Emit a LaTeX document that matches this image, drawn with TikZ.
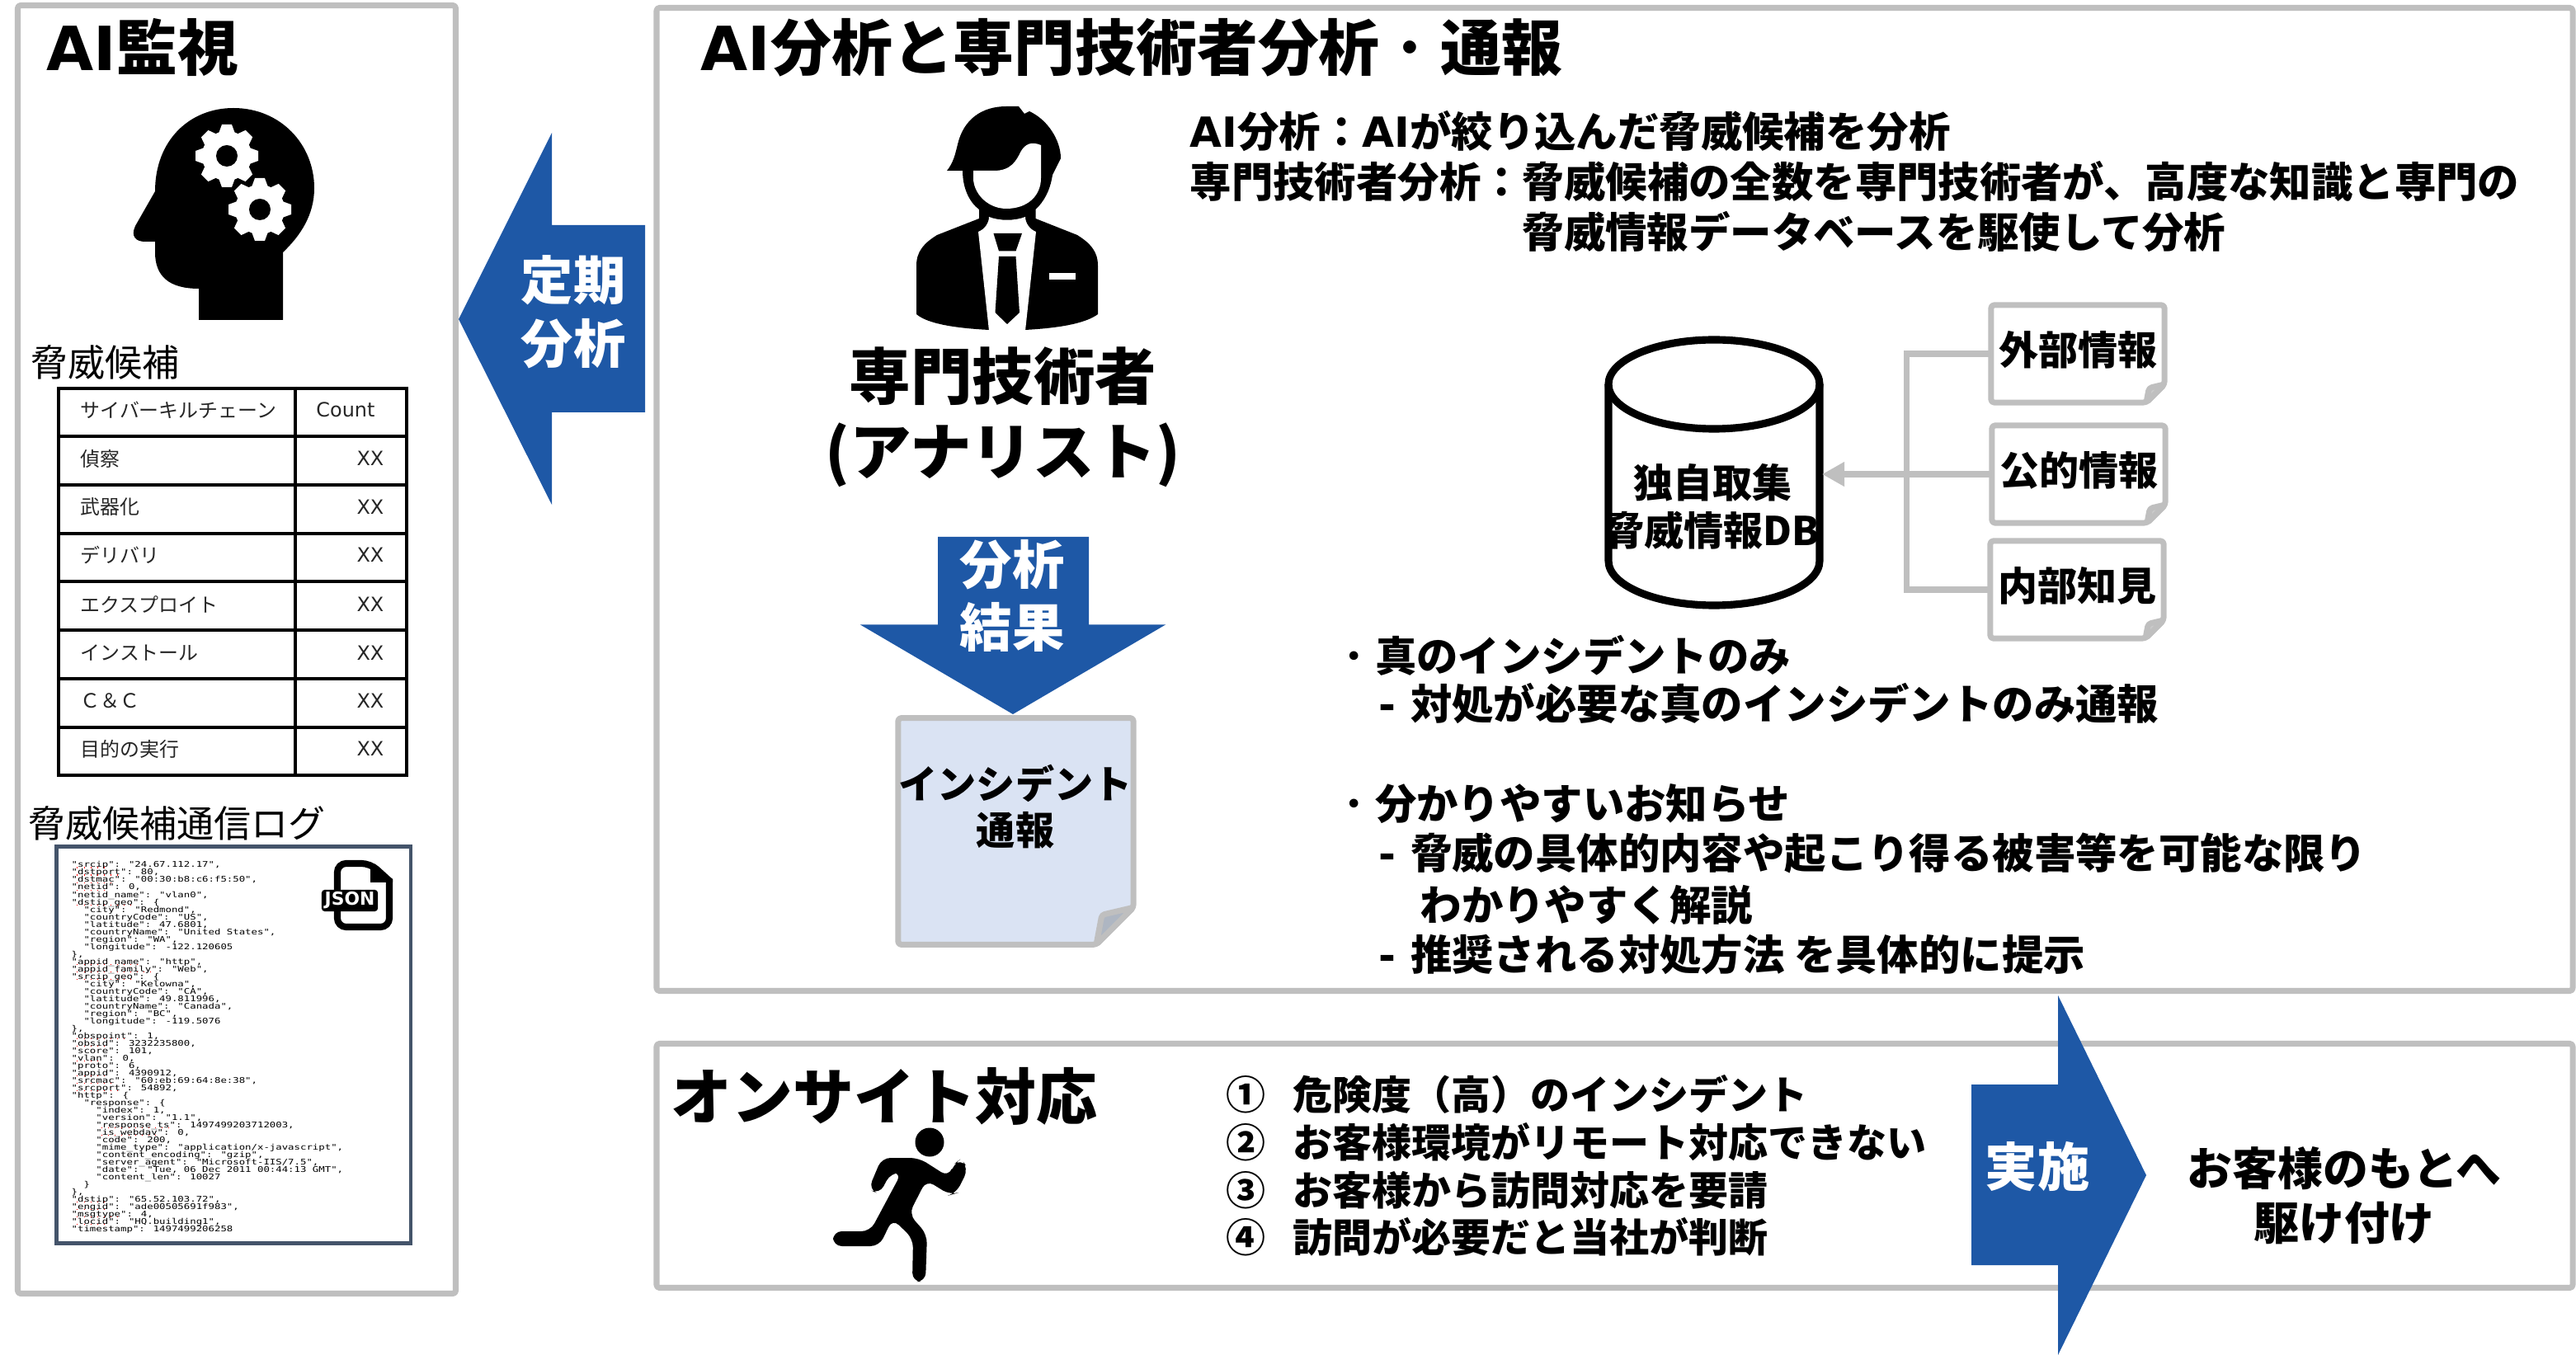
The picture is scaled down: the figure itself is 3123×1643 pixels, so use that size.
\documentclass[tikz,border=0pt]{standalone}
\usepackage{fontspec}
\setmainfont{Noto Sans CJK JP}
\newfontfamily\latfont{DejaVu Sans}
\newfontfamily\jsonfont[FakeStretch=1.3]{DejaVu Sans Mono}
\usetikzlibrary{arrows.meta,positioning,calc,backgrounds}
\definecolor{frameG}{HTML}{BFBFBF}
\definecolor{arrowB}{HTML}{1E58A6}
\definecolor{noteB}{HTML}{DAE3F3}
\definecolor{logD}{HTML}{44546A}
\definecolor{cellT}{HTML}{262626}
\newcommand{\lat}[1]{{\latfont #1}}
\newcommand{\jsi}{\phantom{xx}}
\newcommand{\middot}{{\mdseries ・}}
\newcommand{\logfont}{\jsonfont\fontsize{2.7}{2.565}\selectfont\setlength{\lineskiplimit}{-5pt}\setlength{\lineskip}{0pt}}
\newcommand{\notepaper}[3]{%
\begin{scope}[on background layer]
\draw[frame, fill=#2] (#1.north west) -- (#1.north east) -- ($(#1.south east)+(0,-#3)$) -- ($(#1.south east)+(-#3,0)$) -- (#1.south west) -- cycle;
\draw[frame, fill=#2!80!black] ($(#1.south east)+(0,-#3)$) -- ($(#1.south east)+(-.85*#3,-.8*#3)$) -- ($(#1.south east)+(-#3,0)$) -- cycle;
\end{scope}}
\newcommand{\gearicon}[2]{%
\begin{scope}[shift={(#1,#2)}]
\fill[white] (0,0) circle (30);
\foreach \a in {0,45,...,315} \fill[white, rotate=\a] (-10,-27) -- (-6,-38) -- (6,-38) -- (10,-27) -- cycle;
\fill[black] (0,0) circle (13);
\end{scope}}
\tikzset{
  frame/.style={draw=frameG, line width=2pt, rounded corners=1pt, line join=round},
  bigarrow/.style={fill=arrowB},
  arrowtxt/.style={white, inner sep=0pt, align=center, font=\bfseries\fontsize{18}{21.8}\selectfont},
  heading/.style={inner sep=0pt, anchor=west, font=\bfseries\fontsize{21}{26}\selectfont},
  subhead/.style={inner sep=0pt, anchor=west, font=\fontsize{12.8}{15}\selectfont},
  bodyline/.style={inner sep=0pt, anchor=west, font=\bfseries\fontsize{14.33}{17}\selectfont},
  listline/.style={inner sep=0pt, anchor=west, font=\bfseries\fontsize{13.65}{16}\selectfont},
  docnote/.style={inner sep=0pt, outer sep=0pt, minimum width=2.1cm, minimum height=1.18cm, text height=11.6pt, text depth=4pt, font=\bfseries\fontsize{13.65}{16}\selectfont},
  cell/.style={inner sep=0pt, cellT, font=\fontsize{6.8}{8}\selectfont},
  link/.style={draw=frameG, line width=2pt},
  spell/.style={red, dotted, line width=0.3pt},
}
\begin{document}
\begin{tikzpicture}[x=0.01cm, y=-0.01cm]
\useasboundingbox (0,0) rectangle (3123,1643);
% frames
\draw[frame] (21.5,6.5) rectangle (552.5,1568.5);
\draw[frame] (796,9.5) rectangle (3119,1201.5);
\draw[frame] (796,1265.5) rectangle (3119,1561.5);
% AI monitoring
\node[heading] (aiTitle) at (56,57) {\lat{AI}監視};
\fill (343,388) -- (241,388) -- (241,350) .. controls (205,350) and (188,335) .. (188,306) -- (188,293) -- (176,293) .. controls (165,293) and (158,287) .. (164,274) -- (188,232) .. controls (188,170) and (230,131) .. (283,131) .. controls (340,131) and (381,175) .. (381,228) .. controls (381,260) and (365,285) .. (343,306) -- cycle;
\gearicon{275}{189}
\gearicon{315}{254}
\node[subhead] (candTitle) at (37,439) {脅威候補};
\foreach \y in {471,529,588,647,705,764,823,882,940} \draw[line width=1pt] (71,\y) -- (493,\y);
\foreach \x in {71,358,493} \draw[line width=1pt] (\x,469) -- (\x,942);
\node[cell, anchor=west] (headKill) at (97,497) {サイバーキルチェーン};
\node[cell] (headCount) at (419,497) {\lat{Count}};
\foreach \y/\t [count=\i] in {556/偵察,615/武器化,673/デリバリ,733/エクスプロイト,792/インストール,850/Ｃ＆Ｃ,908/目的の実行} {
  \node[cell, anchor=west] (stage\i) at (97,\y) {\t};
  \node[cell, anchor=east] (count\i) at (466,\y) {\lat{XX}};
}
\node[subhead] (logTitle) at (34,998) {脅威候補通信ログ};
\draw[draw=logD, line width=1.4pt] (68.5,1026.5) rectangle (498,1507.5);
\node[inner sep=0pt, anchor=north west, align=left, font=\logfont] (logText) at (86,1044) {%
"srcip": "24.67.112.17",\\
"dstport": 80,\\
"dstmac": "00:30:b8:c6:f5:50",\\
"netid": 0,\\
"netid\_name": "vlan0",\\
"dstip\_geo": \{\\
\jsi"city": "Redmond",\\
\jsi"countryCode": "US",\\
\jsi"latitude": 47.6801,\\
\jsi"countryName": "United States",\\
\jsi"region": "WA",\\
\jsi"longitude": -122.120605\\
\},\\
"appid\_name": "http",\\
"appid\_family": "Web",\\
"srcip\_geo": \{\\
\jsi"city": "Kelowna",\\
\jsi"countryCode": "CA",\\
\jsi"latitude": 49.811996,\\
\jsi"countryName": "Canada",\\
\jsi"region": "BC",\\
\jsi"longitude": -119.5076\\
\},\\
"obspoint": 1,\\
"obsid": 3232235800,\\
"score": 101,\\
"vlan": 0,\\
"proto": 6,\\
"appid": 4390912,\\
"srcmac": "60:eb:69:64:8e:38",\\
"srcport": 54892,\\
"http": \{\\
\jsi"response": \{\\
\jsi\jsi"index": 1,\\
\jsi\jsi"version": "1.1",\\
\jsi\jsi"response\_ts": 1497499203712003,\\
\jsi\jsi"is\_webdav": 0,\\
\jsi\jsi"code": 200,\\
\jsi\jsi"mime\_type": "application/x-javascript",\\
\jsi\jsi"content\_encoding": "gzip",\\
\jsi\jsi"server\_agent": "Microsoft-IIS/7.5",\\
\jsi\jsi"date": "Tue, 06 Dec 2011 00:44:13 GMT",\\
\jsi\jsi"content\_len": 10027\\
\jsi\}\\
\},\\
"dstip": "65.52.103.72",\\
"engid": "ade00505691f983",\\
"msgtype": 4,\\
"locid": "HQ.building1",\\
"timestamp": 1497499206258};
\foreach \r/\c/\n in {0/1/5,1/1/7,2/1/6,3/1/5,5/1/9,13/1/10,14/1/12,15/1/9,23/1/8,24/1/5,26/1/4,28/1/5,29/1/6,30/1/7,35/5/11,36/5/9,45/1/5,46/1/5,47/1/7,48/1/5}
  \draw[spell] ({86+\c*7.43},{1052+\r*9.02}) -- ++({\n*7.43},0);
% json file icon
\draw[line width=2.3pt, rounded corners=3pt] (409,1079) -- (409,1047) -- (449,1047) [sharp corners] -- (472,1068) [rounded corners=3pt] -- (472,1124) -- (409,1124) -- (409,1105);
\fill (449,1045) -- (476,1066) -- (476,1070) -- (449,1070) -- cycle;
\node[fill=black, text=white, rounded corners=1pt, inner sep=0pt, minimum width=.68cm, minimum height=.26cm, font=\latfont\bfseries\fontsize{6.2}{7}\selectfont] (jsonTag) at (424,1092) {JSON};
% periodic analysis arrow
\fill[bigarrow] (556,387) -- (669,161) -- (669,273) -- (782,273) -- (782,500) -- (669,500) -- (669,612) -- cycle;
\node[arrowtxt] (periodic) at (695,378) {定期\\分析};
% analyst
\node[heading] (mainTitle) at (849,58) {\lat{AI}分析と専門技術者分析\middot 通報};
\fill (1148,207) .. controls (1156,197) and (1158,187) .. (1161,175) .. controls (1168,145) and (1190,129) .. (1220,129) -- (1235,129) -- (1242,138) -- (1248,135) .. controls (1270,145) and (1286,170) .. (1286,192) -- (1276,212) .. controls (1273,232) and (1265,245) .. (1255.5,254) -- (1255.5,265) -- (1306,285) .. controls (1322,295) and (1331,305) .. (1331,322) -- (1331,381) .. controls (1315,393) and (1280,398) .. (1243,400) -- (1199,400) .. controls (1160,398) and (1125,393) .. (1111,381) -- (1111,322) .. controls (1111,305) and (1120,295) .. (1136,285) -- (1187,265) -- (1187,254) .. controls (1175,245) and (1167,228) .. (1167,207) -- cycle;
\fill[white] (1180,207) -- (1180,218) .. controls (1182,238) and (1200,253) .. (1220,253) .. controls (1245,253) and (1262,238) .. (1262,216) -- (1262,176) .. controls (1250,171) and (1243,175) .. (1238,183) .. controls (1232,195) and (1226,207) .. (1205,207) -- cycle;
\fill[white] (1199,263) .. controls (1212,268) and (1230,268) .. (1243,263) .. controls (1243,270) and (1248,278) .. (1256,281) -- (1243,401) -- (1199,401) -- (1186,281) .. controls (1194,278) and (1199,270) .. (1199,263) -- cycle;
\fill (1204.5,283) -- (1239,283) -- (1231.5,304.5) -- (1211,304.5) -- cycle;
\fill (1211,311) -- (1231.5,311) -- (1236,379) -- (1221,393) -- (1206.5,379) -- cycle;
\fill[white] (1272,331) rectangle (1303.5,339);
\node[inner sep=0pt, align=center, font=\bfseries\fontsize{21.2}{26}\selectfont] (analyst) at (1216,506) {専門技術者\\(アナリスト)};
% analysis result arrow
\fill[bigarrow] (1137,651) -- (1320,651) -- (1320,757.5) -- (1413,757.5) -- (1228,866) -- (1043,757.5) -- (1137,757.5) -- cycle;
\node[arrowtxt] (result) at (1227,722.5) {分析\\結果};
\node[inner sep=0pt, outer sep=0pt, minimum width=2.85cm, minimum height=2.745cm] (incident) at (1231.5,1008) {};
\notepaper{incident}{noteB}{45}
\node[inner sep=0pt, align=center, font=\bfseries\fontsize{13.4}{15.9}\selectfont] (incidentTxt) at (1231,978) {インシデント\\通報};
% description
\node[bodyline] (desc1) at (1442,159) {\lat{AI}分析：\lat{AI}が絞り込んだ脅威候補を分析};
\node[bodyline] (desc2) at (1442,220) {専門技術者分析：脅威候補の全数を専門技術者が、高度な知識と専門の};
\node[bodyline] (desc3) at (1845,281) {脅威情報データベースを駆使して分析};
% database
\draw[line width=2.6pt, fill=white] (1950,466) -- (1950,680) arc[start angle=180, end angle=360, x radius=128, y radius=-54] -- (2206,466);
\draw[line width=2.6pt] (2078,466) ellipse[x radius=128, y radius=54];
\node[inner sep=0pt, align=center, font=\bfseries\fontsize{13.65}{16.5}\selectfont] (db) at (2076,614) {独自取集\\脅威情報DB};
\coordinate (dbIn) at (2209,575);
\coordinate (bus) at (2311,575);
\node[docnote] (external) at (2519,429) {外部情報};
\node[docnote] (public) at (2520,575) {公的情報};
\node[docnote] (internal) at (2518,715) {内部知見};
\notepaper{external}{white}{22}
\notepaper{public}{white}{22}
\notepaper{internal}{white}{22}
\draw[link] (external.west) -- (external.west -| bus) -- (internal.west -| bus) -- (internal.west);
\draw[link, -{Triangle[length=7.7pt, width=8pt]}] (public.west) -- (dbIn);
% notice points
\node[bodyline] (point1) at (1616,795) {\middot 真のインシデントのみ};
\node[bodyline] (point1a) at (1671,853) {\lat{- }対処が必要な真のインシデントのみ通報};
\node[bodyline] (point2) at (1616,975) {\middot 分かりやすいお知らせ};
\node[bodyline] (point2a) at (1671,1035) {\lat{- }脅威の具体的内容や起こり得る被害等を可能な限り};
\node[bodyline] (point2b) at (1721,1097) {わかりやすく解説};
\node[bodyline] (point2c) at (1671,1157) {\lat{- }推奨される対処方法 を具体的に提示};
% onsite
\node[heading] (onsite) at (813,1329) {オンサイト対応};
\fill (1127,1385) circle (17.5);
\fill[rounded corners=3pt] (1114,1404) -- (1150,1427) -- (1156,1412) -- (1165,1405) -- (1174,1417) -- (1159,1447) -- (1152,1449) -- (1123,1431) -- (1102,1472) -- (1124,1497) -- (1122,1554) -- (1106,1554) -- (1107,1502) -- (1082,1478) -- (1066,1511) -- (1010,1511) -- (1010,1493) -- (1055,1493) -- (1093,1422) -- (1080,1422) -- (1066,1448) -- (1053,1442) -- (1069,1404) -- cycle;
\foreach \y/\n/\t in {1327/①/危険度（高）のインシデント,1385/②/お客様環境がリモート対応できない,1443/③/お客様から訪問対応を要請,1500/④/訪問が必要だと当社が判断} {
  \node[listline] (num\n) at (1486,\y) {\n};
  \node[listline] (item\n) at (1567,\y) {\t};
}
% go on site arrow
\fill[bigarrow] (2390,1315) -- (2495,1315) -- (2495,1207) -- (2602,1425) -- (2495,1643) -- (2495,1534) -- (2390,1534) -- cycle;
\node[arrowtxt] (doIt) at (2470,1415) {実施};
\node[inner sep=0pt, align=center, font=\bfseries\fontsize{15.6}{18.8}\selectfont] (rush) at (2842,1450) {お客様のもとへ\\駆け付け};
\end{tikzpicture}
\end{document}
